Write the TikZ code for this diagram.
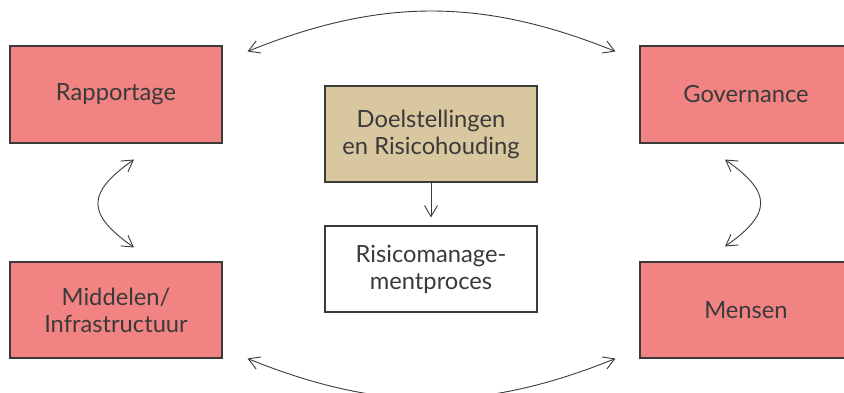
\documentclass[tikz,border=0pt]{standalone}
\usepackage{fontspec}
\setmainfont{Lato}
\usetikzlibrary{arrows.meta}
\definecolor{roze}{RGB}{241,131,131}
\definecolor{zand}{RGB}{217,199,160}
\definecolor{rand}{RGB}{58,58,58}
\begin{document}
\begin{tikzpicture}[x=1pt,y=1pt,
    box/.style={draw=rand,line width=1.1pt,minimum width=212pt,minimum height=97pt,
      align=center,inner sep=0pt,text=rand,font=\fontsize{23.7}{27}\selectfont},
    >={Straight Barb[length=11pt,width=13pt]}]
      \useasboundingbox (0,0) rectangle (844,393);
      \draw
        (116,298.5) node[box,fill=roze] (rap){Rapportage}
        (746,298.5) node[box,fill=roze] (gov){Governance}
        (116,83) node[box,fill=roze,minimum height=96pt] (mid){Middelen/\\Infrastructuur}
        (746,83) node[box,fill=roze,minimum height=96pt] (men){Mensen}
        (431,259) node[box,fill=zand,minimum height=96pt] (doel){Doelstellingen\\en Risicohouding}
        (431,124) node[box,fill=white,minimum height=86pt] (proc){Risicomanage-\\mentproces};
      \begin{scope}[<->,draw=rand,line width=0.9pt]
        \draw ([shift={(25,-6)}]rap.north east) to[bend left=22] ([shift={(-24,-6)}]gov.north west);
        \draw ([xshift=25]mid.south east) to[bend right=22] ([xshift=-24]men.south west);
        \draw ([shift={(18,-16)}]rap.south) to[out=215,in=145,looseness=1.7] ([shift={(18,14)}]mid.north);
        \draw ([shift={(-21,-16)}]gov.south) to[out=-35,in=35,looseness=1.7] ([shift={(-21,15)}]men.north);
      \end{scope}
      \draw[->,draw=rand,line width=0.9pt,shorten >=8pt] (doel) -- (proc);
    \end{tikzpicture}
\end{document}
